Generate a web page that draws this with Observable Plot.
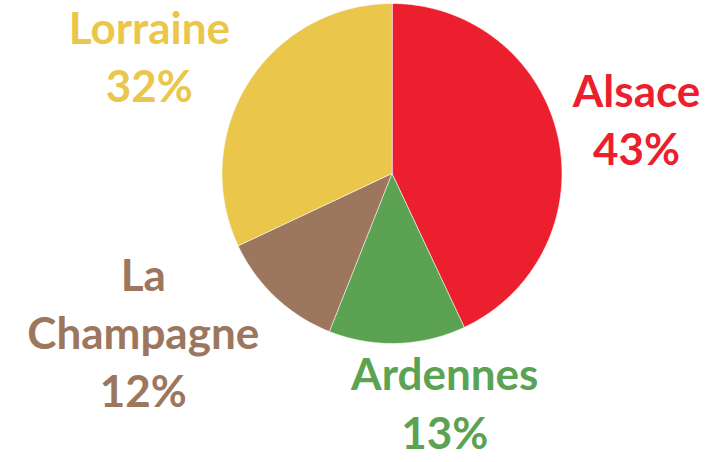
<!DOCTYPE html>
<html>
<head>
<meta charset="utf-8">
<script src="https://cdn.jsdelivr.net/npm/d3@7"></script>
<script src="https://cdn.jsdelivr.net/npm/@observablehq/plot@0.6"></script>
<style>
  html, body { margin: 0; padding: 0; background: #fff; }
  #chart svg { display: block; }
</style>
</head>
<body>
<div id="chart"></div>
<script>
// ---- data ----
const regions = ["Alsace", "Ardennes", "La Champagne", "Lorraine"];
const shares = [43, 13, 12, 32];
const labelLines = [["Alsace"], ["Ardennes"], ["La", "Champagne"], ["Lorraine"]];
const colors = ["#EB1F2D", "#5BA352", "#9C775E", "#EAC74A"];

// ---- layout / style ----
const W = 719, H = 462;
const R = 170;                 // pie radius in px
const CX = 391.5, CY = 173;    // pie centre in px
const labelRadius = 1.45;      // in pie radii
// small nudges (px) for label placement, like Excel's best-fit
const nudge = {
  "Alsace": [4, -2],
  "Ardennes": [45, -19],
  "La Champagne": [-80, -23],
  "Lorraine": [-34.5, 13]
};

const total = d3.sum(shares);
const TAU = 2 * Math.PI;

// slices as polygons in unit-radius coordinates (clockwise from 12 o'clock)
const slicePts = [];
const labels = [];
let acc = 0;
regions.forEach((name, i) => {
  const a0 = acc / total * TAU;
  acc += shares[i];
  const a1 = acc / total * TAU;
  slicePts.push({name, x: 0, y: 0});
  const n = Math.max(2, Math.ceil((a1 - a0) / 0.01));
  for (let k = 0; k <= n; k++) {
    const a = a0 + (a1 - a0) * k / n;
    slicePts.push({name, x: Math.sin(a), y: Math.cos(a)});
  }
  const mid = (a0 + a1) / 2;
  const [nx, ny] = nudge[name];
  labels.push({
    name,
    x: labelRadius * Math.sin(mid) + nx / R,
    y: labelRadius * Math.cos(mid) - ny / R,
    text: [...labelLines[i], `${shares[i]}%`].join("\n")
  });
});

const chart = Plot.plot({
  width: W,
  height: H,
  margin: 0,
  style: {background: "#fff", overflow: "visible"},
  x: {domain: [-CX / R, (W - CX) / R], range: [0, W], axis: null},
  y: {domain: [-(H - CY) / R, CY / R], range: [H, 0], axis: null},
  color: {domain: regions, range: colors},
  marks: [
    Plot.line(slicePts, {
      x: "x", y: "y", z: "name",
      fill: "name",
      stroke: "white", strokeWidth: 0.6,
      curve: "linear-closed"
    }),
    Plot.text(labels, {
      x: "x", y: "y", text: "text",
      fill: "name",
      fontSize: 44,
      fontWeight: "bold",
      fontFamily: "Lato, 'Open Sans', sans-serif",
      lineHeight: 1.32,
      textAnchor: "middle"
    })
  ]
});
document.getElementById("chart").appendChild(chart);
</script>
</body>
</html>
